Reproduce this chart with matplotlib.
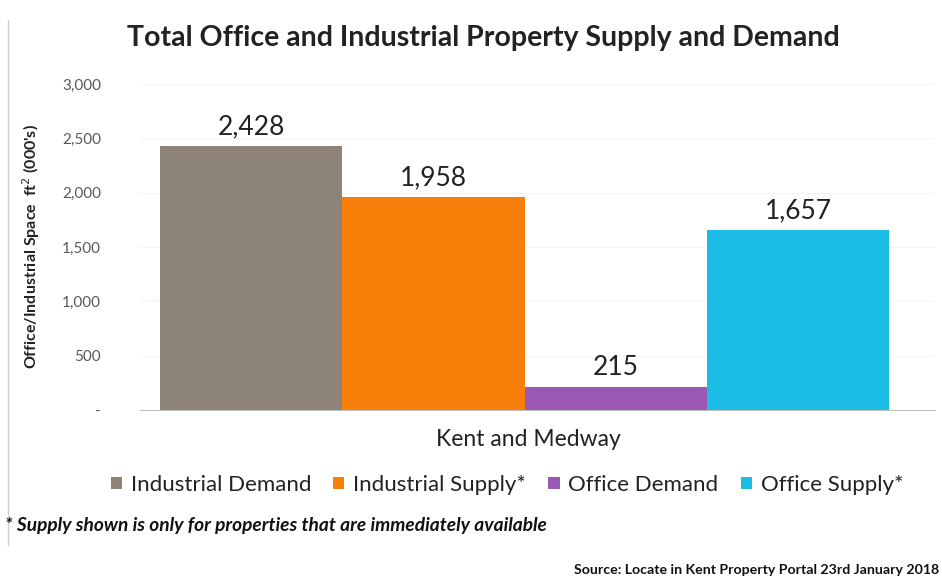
import matplotlib
matplotlib.use("Agg")
import matplotlib.pyplot as plt
from matplotlib.ticker import FuncFormatter

# data
series = ["Industrial Demand", "Industrial Supply*", "Office Demand", "Office Supply*"]
values = [2428, 1958, 215, 1657]
colors = ["#8d8379", "#f77f0a", "#9b58b2", "#1bbde6"]
category = "Kent and Medway"
yticks = [0, 500, 1000, 1500, 2000, 2500, 3000]

plt.rcParams["font.family"] = ["Lato", "DejaVu Sans"]

W, H = 942, 584
fig = plt.figure(figsize=(W / 100, H / 100), dpi=100)
ax = fig.add_axes([140 / W, 1 - 410 / H, (935 - 140) / W, (410 - 84) / H])

offsets = [-1.5, -0.5, 0.5, 1.5]
bars = []
for off, v, c, name in zip(offsets, values, colors, series):
    b = ax.bar(off, v, width=1.0, color=c, label=name, zorder=2)
    bars.append(b)
    ax.text(off, v + 60, f"{v:,}", ha="center", va="bottom", fontsize=19, color="#222222")

ax.set_xlim(-2.11, 2.25)
ax.set_ylim(0, 3000)
ax.set_yticks(yticks)
ax.yaxis.set_major_formatter(FuncFormatter(lambda v, p: "-" if v == 0 else f"{int(v):,}"))
ax.tick_params(axis="y", length=0, labelsize=11, labelcolor="#595959", pad=28)
ax.set_xticks([])
for s in ["top", "right", "left"]:
    ax.spines[s].set_visible(False)
ax.spines["bottom"].set_color("#bfbfbf")
ax.grid(axis="y", color="#f4f4f4", lw=0.8, zorder=0)

ax.set_ylabel("Office/Industrial Space  ft$^2$ (000's)", fontsize=11.5, fontweight="bold",
              color="#222222")
ax.yaxis.set_label_coords(-98 / 795, 0.5)

fig.text(528 / W, 1 - 440 / H, category, ha="center", va="center", fontsize=16.5, color="#222222")
fig.text(483 / W, 1 - 38 / H, "Total Office and Industrial Property Supply and Demand",
         ha="center", va="center", fontsize=20.5, fontweight="bold", color="#222222")

fig.legend(handles=[b[0] for b in bars], labels=series, loc="center",
           bbox_to_anchor=(507 / W, 1 - 485 / H), ncol=4, frameon=False,
           fontsize=16, handlelength=0.5, handleheight=0.5, handletextpad=0.4,
           columnspacing=1.0, labelcolor="#222222")

fig.text(5 / W, 1 - 525 / H, "* Supply shown is only for properties that are immediately available",
         ha="left", va="center", fontsize=13.8, fontweight="bold", style="italic", color="#111111")
fig.text(939 / W, 1 - 570 / H, "Source: Locate in Kent Property Portal 23rd January 2018",
         ha="right", va="center", fontsize=10.2, fontweight="bold", color="#111111")

fig.add_artist(plt.Line2D([8 / W, 8 / W], [1 - 20 / H, 1 - 545 / H], color="#d0d0d0", lw=1))

fig.savefig("out.png", dpi=100)
